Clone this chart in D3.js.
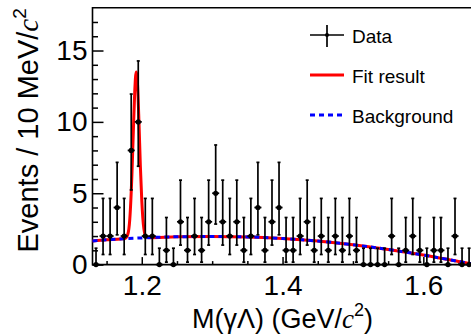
<!DOCTYPE html>
<html lang="en">
<head>
<meta charset="utf-8">
<title>M(gamma Lambda) fit</title>
<script src="https://cdn.jsdelivr.net/npm/d3@7"></script>
<style>
    body { margin: 0; background: #fff; }
    text { font-family: "Liberation Sans", Arial, Helvetica, sans-serif; fill: #000; }
    .axis path { display: none; }
    .axis line { stroke: #000; stroke-width: 1.5px; }
    .axis text { font-size: 28px; }
    .frame { stroke: #000; stroke-width: 1.6px; fill: none; }
    .errbar { stroke: #000; stroke-width: 1.7px; }
</style>
</head>
<body>
<svg width="471" height="334"></svg>
<script>
// bin centres (GeV/c^2), 10 MeV bins
var massBins = [1.135, 1.145, 1.155, 1.165, 1.175, 1.185, 1.195, 1.205, 1.215, 1.225,
                1.235, 1.245, 1.255, 1.265, 1.275, 1.285, 1.295, 1.305, 1.315, 1.325,
                1.335, 1.345, 1.355, 1.365, 1.375, 1.385, 1.395, 1.405, 1.415, 1.425,
                1.435, 1.445, 1.455, 1.465, 1.475, 1.485, 1.495, 1.505, 1.515, 1.525,
                1.535, 1.545, 1.555, 1.565, 1.575, 1.585, 1.595, 1.605, 1.615, 1.625,
                1.635, 1.645, 1.655, 1.665];
var counts = [0, 2, 2, 4, 2, 8, 10, 2, 2, 0,
              1, 0, 3, 1, 2, 1, 3, 5, 3, 2,
              3, 1, 2, 4, 1, 3, 4, 1, 1, 2,
              3, 1, 2, 1, 2, 1, 2, 1, 0, 0,
              0, 0, 2, 0, 1, 2, 1, 0, 1, 1,
              0, 2, 0, 0];

// error bar ends by count (as drawn)
var errLow  = [0, 0.173, 0.708, 1.367, 2.086, 2.840, 3.620, 4.419, 5.232, 6.057, 6.891];
var errHigh = [1.148, 3.300, 4.638, 5.918, 7.163, 8.382, 9.584, 10.77, 11.95, 13.11, 14.27];

// background curve
var bgMass  = [1.13, 1.15, 1.2, 1.25, 1.3, 1.35, 1.4, 1.45, 1.5, 1.55, 1.6, 1.65, 1.67];
var bgYield = [1.66, 1.74, 1.87, 1.95, 1.97, 1.94, 1.83, 1.65, 1.39, 1.06, 0.67, 0.22, 0.04];

// total fit curve
var fitMass  = [1.13, 1.15, 1.17, 1.176, 1.18, 1.183, 1.186, 1.188, 1.19, 1.192, 1.194,
                1.196, 1.198, 1.2, 1.203, 1.206, 1.21, 1.25, 1.3, 1.35, 1.4, 1.45,
                1.5, 1.55, 1.6, 1.65, 1.67];
var fitYield = [1.66, 1.74, 1.80, 1.83, 2.1, 3.2, 6.3, 9.3, 12.1, 13.5, 12.6,
                10.0, 6.9, 4.5, 2.5, 1.95, 1.89, 1.95, 1.97, 1.94, 1.83, 1.65,
                1.39, 1.06, 0.67, 0.22, 0.04];

var xMajor = [1.2, 1.4, 1.6];
var xMinor = [1.15, 1.25, 1.3, 1.35, 1.45, 1.5, 1.55, 1.65];
var yMajor = [0, 5, 10, 15];
var yMinor = [1, 2, 3, 4, 6, 7, 8, 9, 11, 12, 13, 14, 16, 17];

var legendLabels = ["Data", "Fit result", "Background"];

var margin = {left: 92.5, top: 7.7, right: -1.6, bottom: 69.4};
var svg = d3.select("svg");
var width  = 471 - margin.left - margin.right;
var height = 334 - margin.top - margin.bottom;

var svgG = svg.append("g")
    .attr("transform", "translate(" + margin.left + "," + margin.top + ")");

var xScale = d3.scaleLinear().domain([1.13, 1.67]).range([0, width]);
var yScale = d3.scaleLinear().domain([0, 18]).range([height, 0]);

// axes, ticks pointing inward
svgG.append("g")
    .attr("class", "axis")
    .attr("transform", "translate(0," + height + ")")
    .call(d3.axisBottom(xScale).tickValues(xMajor).tickSize(-7.5).tickPadding(11)
        .tickFormat(d3.format(".1f")));
svgG.append("g")
    .attr("class", "axis")
    .attr("transform", "translate(0," + height + ")")
    .call(d3.axisBottom(xScale).tickValues(xMinor).tickSize(-3.5).tickFormat(""));
svgG.append("g")
    .attr("class", "axis")
    .call(d3.axisLeft(yScale).tickValues(yMajor).tickSize(-11).tickPadding(5));
svgG.append("g")
    .attr("class", "axis")
    .call(d3.axisLeft(yScale).tickValues(yMinor).tickSize(-5.5).tickFormat(""));

svgG.append("path")
    .attr("class", "frame")
    .attr("d", "M" + width + ",0H0V" + height + "H" + width);

// curves
var curve = d3.line()
    .curve(d3.curveMonotoneX)
    .x(function(d) { return xScale(d[0]); })
    .y(function(d) { return yScale(d[1]); });

svgG.append("path")
    .datum(d3.zip(fitMass, fitYield))
    .attr("d", curve)
    .attr("fill", "none")
    .attr("stroke", "#ff0000")
    .attr("stroke-width", 3);

svgG.append("path")
    .datum(d3.zip(bgMass, bgYield))
    .attr("d", curve)
    .attr("fill", "none")
    .attr("stroke", "#0000ff")
    .attr("stroke-width", 3)
    .attr("stroke-dasharray", "5,4");

// data points
var binHalf = 0.005;
var pts = svgG.append("g")
    .selectAll("g")
    .data(d3.zip(massBins, counts))
    .enter().append("g");

pts.append("line")
    .attr("class", "errbar")
    .attr("x1", function(d) { return xScale(d[0]); })
    .attr("x2", function(d) { return xScale(d[0]); })
    .attr("y1", function(d) { return yScale(errLow[d[1]]); })
    .attr("y2", function(d) { return yScale(errHigh[d[1]]); });

pts.append("line")
    .attr("class", "errbar")
    .attr("x1", function(d) { return xScale(d[0] - binHalf); })
    .attr("x2", function(d) { return xScale(d[0] + binHalf); })
    .attr("y1", function(d) { return yScale(d[1]); })
    .attr("y2", function(d) { return yScale(d[1]); });

pts.append("line")
    .attr("class", "errbar")
    .attr("x1", function(d) { return xScale(d[0]) - 1.5; })
    .attr("x2", function(d) { return xScale(d[0]) + 1.5; })
    .attr("y1", function(d) { return yScale(errHigh[d[1]]); })
    .attr("y2", function(d) { return yScale(errHigh[d[1]]); });

pts.append("line")
    .attr("class", "errbar")
    .attr("x1", function(d) { return xScale(d[0]) - 1.5; })
    .attr("x2", function(d) { return xScale(d[0]) + 1.5; })
    .attr("y1", function(d) { return yScale(errLow[d[1]]); })
    .attr("y2", function(d) { return yScale(errLow[d[1]]); });

pts.append("circle")
    .attr("cx", function(d) { return xScale(d[0]); })
    .attr("cy", function(d) { return yScale(d[1]); })
    .attr("r", 2.6)
    .attr("fill", "#000");

// axis titles
var xt = svgG.append("text")
    .attr("x", width / 2)
    .attr("y", height + 63)
    .attr("text-anchor", "middle")
    .style("font-size", "27px");
xt.append("tspan").text("M(\u03B3\u039B) (GeV/");
xt.append("tspan").text("c").style("font-family", "'Liberation Serif', serif").style("font-style", "italic");
xt.append("tspan").text("2").attr("dy", -12).style("font-size", "18px");
xt.append("tspan").text(")").attr("dy", 12);

var yt = svgG.append("text")
    .attr("transform", "translate(-55,0.5) rotate(-90)")
    .attr("text-anchor", "end")
    .style("font-size", "29px");
yt.append("tspan").text("Events / 10 MeV/");
yt.append("tspan").text("c").style("font-family", "'Liberation Serif', serif").style("font-style", "italic");
yt.append("tspan").text("2").attr("dy", -12).style("font-size", "19px");

// legend
var legend = svg.append("g")
    .selectAll("g")
    .data(legendLabels)
    .enter().append("g")
    .attr("transform", function(d, i) { return "translate(310," + (35 + i * 40) + ")"; });

legend.append("text")
    .attr("x", 42)
    .attr("y", 7.5)
    .style("font-size", "19px")
    .text(function(d) { return d; });

legend.filter(function(d, i) { return i === 0; }).each(function() {
    var g = d3.select(this);
    g.append("line").attr("class", "errbar").attr("x1", 0).attr("x2", 34).attr("y1", 0).attr("y2", 0);
    g.append("line").attr("class", "errbar").attr("x1", 17).attr("x2", 17).attr("y1", -10).attr("y2", 12);
    g.append("circle").attr("cx", 17).attr("cy", 0).attr("r", 2).attr("fill", "#000");
});
legend.filter(function(d, i) { return i === 1; })
    .append("line").attr("x1", 0).attr("x2", 34).attr("y1", 0).attr("y2", 0)
    .attr("stroke", "#ff0000").attr("stroke-width", 3);
legend.filter(function(d, i) { return i === 2; })
    .append("line").attr("x1", 0).attr("x2", 34).attr("y1", 0).attr("y2", 0)
    .attr("stroke", "#0000ff").attr("stroke-width", 3).attr("stroke-dasharray", "5,4");
</script>
</body>
</html>
